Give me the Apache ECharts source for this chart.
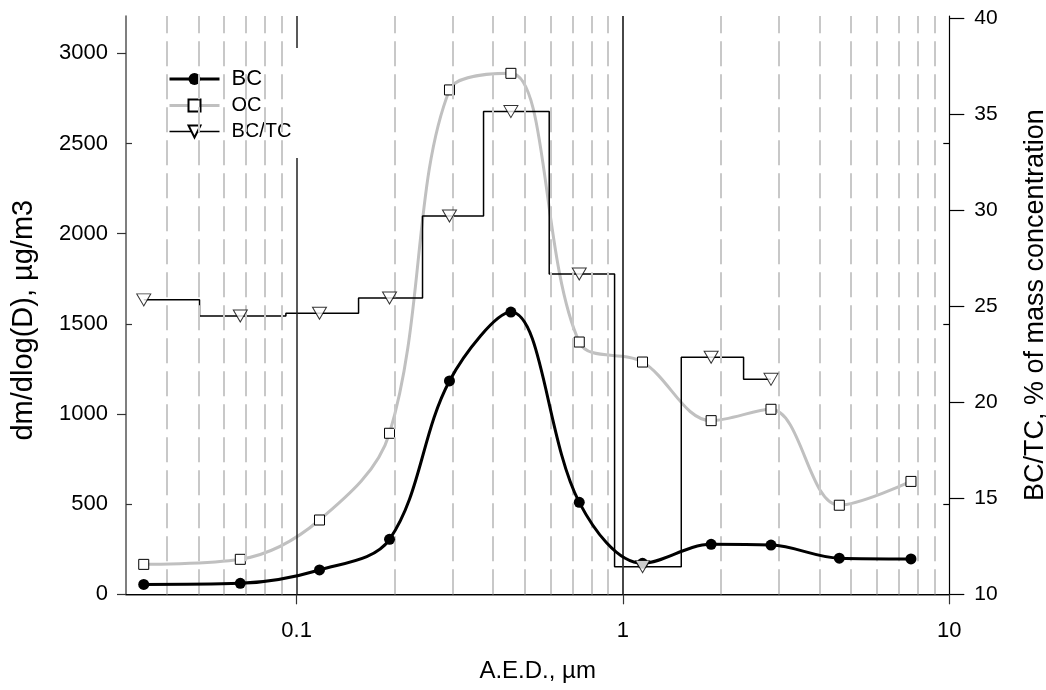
<!DOCTYPE html>
<html>
<head>
<meta charset="utf-8">
<script src="https://cdn.jsdelivr.net/npm/echarts@6/dist/echarts.min.js"></script>
<style>
  html, body { margin: 0; padding: 0; background: #fff; }
  #chart { width: 1046px; height: 690px; }
</style>
</head>
<body>
<div id="chart"></div>
<script>
// stage midpoints, um
var sizes = [0.034, 0.0672, 0.1175, 0.1926, 0.294, 0.4535, 0.7346, 1.148, 1.863, 2.842, 4.602, 7.63];
var bcValues = [55, 61, 135, 305, 1183, 1565, 510, 172, 277, 273, 200, 196];
var ocValues = [166, 194, 412, 893, 2797, 2889, 1399, 1288, 963, 1026, 494, 626];
// BC/TC, % (first 10 stages only)
var ratioValues = [25.34, 24.5, 24.64, 25.44, 29.71, 35.15, 26.69, 11.44, 22.35, 21.2];
// stage boundaries for the BC/TC steps
var stageEdges = [0.0504, 0.0927, 0.1548, 0.2431, 0.3739, 0.5943, 0.9425, 1.509, 2.342];

var leftLabels = [0, 500, 1000, 1500, 2000, 2500, 3000];
var leftMajor = [0, 1000, 2000, 3000];
var leftMinor = [500, 1500, 2500];
var rightLabels = [10, 15, 20, 25, 30, 35, 40];
var xLabels = [0.1, 1, 10];
var minorGrid = [0.04, 0.05, 0.06, 0.07, 0.08, 0.09,
                 0.2, 0.3, 0.4, 0.5, 0.6, 0.7, 0.8, 0.9,
                 2, 3, 4, 5, 6, 7, 8, 9];

var font = 'Liberation Sans, Arial, sans-serif';

function pairs(xs, ys) {
    var out = [];
    for (var i = 0; i < ys.length; i++) {
        out.push([xs[i], ys[i]]);
    }
    return out;
}

// horizontal steps: each stage level runs between its boundaries
var stepData = [];
for (var i = 0; i < ratioValues.length; i++) {
    var x0 = i == 0 ? sizes[0] : stageEdges[i - 1];
    var x1 = i == ratioValues.length - 1 ? sizes[i] : stageEdges[i];
    stepData.push([x0, ratioValues[i]]);
    stepData.push([x1, ratioValues[i]]);
}

var gridLines = [];
for (var i = 0; i < minorGrid.length; i++) {
    gridLines.push({ xAxis: minorGrid[i] });
}

var myChart = echarts.init(document.getElementById('chart'), null, { renderer: 'canvas' });

var option = {
    animation: false,
    textStyle: { fontFamily: font },
    grid: { left: 126, right: 96.7, top: 16, bottom: 95.7, outerBoundsMode: 'none', containLabel: false },
    legend: {
        orient: 'vertical',
        left: 163,
        top: 63,
        itemWidth: 50,
        itemHeight: 15,
        itemGap: 5,
        data: [
            { name: 'BC', lineStyle: { width: 3, color: '#000' }, textStyle: { fontSize: 22 } },
            { name: 'OC', lineStyle: { width: 3, color: '#c0c0c0' } },
            { name: 'BC/TC', lineStyle: { width: 1.5, color: '#000' } }
        ],
        textStyle: { fontSize: 20, color: '#000', fontFamily: font, padding: [0, 0, 0, 7], lineHeight: 21 }
    },
    xAxis: [{
        type: 'log',
        logBase: 10,
        min: 0.03,
        max: 10,
        offset: 3,
        name: 'A.E.D., µm',
        nameLocation: 'middle',
        nameGap: 62,
        nameTextStyle: { fontSize: 24, color: '#000', fontFamily: font },
        axisLine: { lineStyle: { color: '#666', width: 1.5 } },
        axisTick: { length: 10, customValues: xLabels, lineStyle: { color: '#333', width: 1.2 } },
        axisLabel: {
            customValues: xLabels,
            margin: 23,
            fontSize: 22,
            color: '#000',
            fontFamily: font,
            formatter: function (v) { return String(v); }
        },
        splitLine: { show: false },
        minorTick: { show: false }
    }, {
        type: 'value',
        position: 'top',
        min: 0,
        max: 1,
        axisLine: { show: true, lineStyle: { color: '#000', width: 1.2 } },
        axisTick: { show: false },
        axisLabel: { show: false },
        splitLine: { show: false }
    }],
    yAxis: [{
        type: 'value',
        position: 'left',
        min: 0,
        max: 3207,
        name: 'dm/dlog(D), µg/m3',
        nameLocation: 'middle',
        nameRotate: 90,
        nameGap: 88,
        nameTextStyle: { fontSize: 29, color: '#000', fontFamily: font, padding: [0, 30, 0, 0] },
        axisLine: { show: true, lineStyle: { color: '#555', width: 1.5 } },
        axisTick: { show: true, length: 9, customValues: leftMajor, lineStyle: { color: '#333', width: 1.2 } },
        axisLabel: {
            customValues: leftLabels,
            margin: 18,
            fontSize: 22,
            color: '#000',
            fontFamily: font,
            formatter: function (v) { return String(v); }
        },
        splitLine: { show: false }
    }, {
        type: 'value',
        position: 'right',
        min: 10,
        max: 40.13,
        name: 'BC/TC, % of mass concentration',
        nameLocation: 'middle',
        nameRotate: 90,
        nameGap: 73,
        nameTextStyle: { fontSize: 27, color: '#000', fontFamily: font, verticalAlign: 'top' },
        axisLine: { show: true, lineStyle: { color: '#000', width: 1.2 } },
        axisTick: { show: true, length: 15, customValues: rightLabels, lineStyle: { color: '#000', width: 1.2 } },
        axisLabel: { customValues: rightLabels, margin: 25, fontSize: 21, color: '#000', fontFamily: font },
        splitLine: { show: false }
    }, {
        type: 'value',
        position: 'left',
        min: 0,
        max: 3207,
        axisLine: { show: false },
        axisTick: { show: true, inside: true, length: 6, customValues: leftMinor, lineStyle: { color: '#333', width: 1.2 } },
        axisLabel: { show: false },
        splitLine: { show: false }
    }, {
        type: 'value',
        position: 'right',
        min: 0,
        max: 3207,
        axisLine: { show: false },
        axisTick: { show: true, inside: true, length: 6, customValues: leftMinor, lineStyle: { color: '#000', width: 1.2 } },
        axisLabel: { show: false },
        splitLine: { show: false }
    }],
    series: [{
        name: 'grid',
        type: 'line',
        data: [],
        z: 1,
        silent: true,
        markLine: {
            silent: true,
            symbol: ['none', 'none'],
            label: { show: false },
            lineStyle: { color: '#c8c8c8', width: 2, type: [25, 8] },
            data: gridLines.concat([
                [{ coord: [xLabels[0], 0], lineStyle: { color: '#222', width: 1.5, type: 'solid' } },
                 { coord: [xLabels[0], 2419] }],
                [{ coord: [xLabels[0], 3029], lineStyle: { color: '#222', width: 1.5, type: 'solid' } },
                 { coord: [xLabels[0], 3207] }],
                { xAxis: xLabels[1], lineStyle: { color: '#333', width: 1.8, type: 'solid' } }
            ])
        }
    }, {
        name: 'OC',
        type: 'line',
        smooth: 0.35,
        data: pairs(sizes, ocValues),
        z: 3,
        symbol: 'rect',
        symbolSize: 10,
        lineStyle: { color: '#c0c0c0', width: 3 },
        itemStyle: { color: '#fff', borderColor: '#000', borderWidth: 1 }
    }, {
        name: 'BC/TC',
        type: 'line',
        yAxisIndex: 1,
        data: stepData,
        z: 4,
        symbol: 'triangle',
        symbolRotate: 180,
        symbolSize: [13, 11],
        showSymbol: false,
        lineStyle: { color: '#000', width: 1.5 },
        itemStyle: { color: '#fff', borderColor: '#000', borderWidth: 1 }
    }, {
        name: 'BC/TC stages',
        type: 'scatter',
        yAxisIndex: 1,
        data: pairs(sizes, ratioValues),
        z: 6,
        symbol: 'triangle',
        symbolRotate: 180,
        symbolSize: [14, 12],
        itemStyle: { color: '#fff', borderColor: '#000', borderWidth: 1 }
    }, {
        name: 'BC',
        type: 'line',
        smooth: 0.35,
        data: pairs(sizes, bcValues),
        z: 5,
        symbol: 'circle',
        symbolSize: 11,
        lineStyle: { color: '#000', width: 3 },
        itemStyle: { color: '#000' }
    }]
};

myChart.setOption(option);
</script>
</body>
</html>
